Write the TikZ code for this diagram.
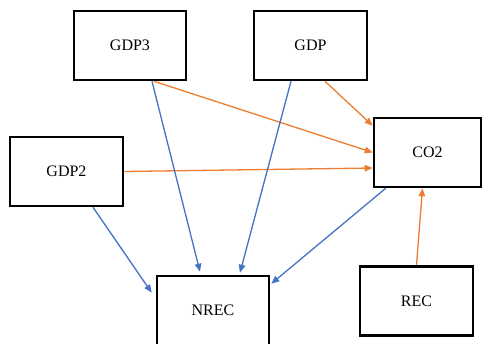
\documentclass[tikz,border=0pt]{standalone}
\usepackage{fontspec}
\setmainfont{Liberation Serif}
\usetikzlibrary{arrows.meta,calc}
\definecolor{arrorange}{HTML}{ED7D31}
\definecolor{arrblue}{HTML}{4472C4}
\begin{document}
\begin{tikzpicture}[x=1pt,y=-1pt,
  box/.style={draw=black,line width=2.6pt,inner sep=0pt,minimum width=113pt,minimum height=69pt,font=\fontsize{16}{19}\selectfont},
  oarr/.style={draw=arrorange,line width=1.3pt,-{Triangle[length=8pt,width=6.5pt]}},
  barr/.style={draw=arrblue,line width=1.3pt,-{Triangle[length=8pt,width=6.5pt]}}]
\useasboundingbox[fill=white] (0,0) rectangle (483,344);
\node[box,minimum width=112pt] (gdp3) at (130,45.5) {GDP3};
\node[box] (gdp) at (310.5,45.5) {GDP};
\node[box] (gdp2) at (66.5,171.5) {GDP2};
\node[box,minimum width=107pt] (co2) at (427.5,152.5) {CO2};
\node[box,minimum width=112pt] (nrec) at (213,310.5) {NREC};
\node[box] (rec) at (416.5,301) {REC};
% orange arrows
\draw[oarr] ($(gdp3.south)+(24,0)$) -- (co2.west);
\draw[oarr] ($(gdp.south)+(14.5,0)$) -- ($(co2.north west)+(0,9)$);
\draw[oarr] (gdp2.east) -- ($(co2.west)+(0,15.5)$);
\draw[oarr] (rec.north) -- ($(co2.south)+(-5,0)$);
% blue arrows
\draw[barr] ($(gdp3.south)+(22,0)$) -- ($(nrec.north)+(-13,-3)$);
\draw[barr] ($(gdp.south)+(-19.5,0)$) -- ($(nrec.north)+(27,-2)$);
\draw[barr] ($(gdp2.south)+(26.5,0)$) -- ($(nrec.north west)+(-4,18)$);
\draw[barr] ($(co2.south west)+(13,0)$) -- ($(nrec.north east)+(1,9)$);
\end{tikzpicture}
\end{document}
